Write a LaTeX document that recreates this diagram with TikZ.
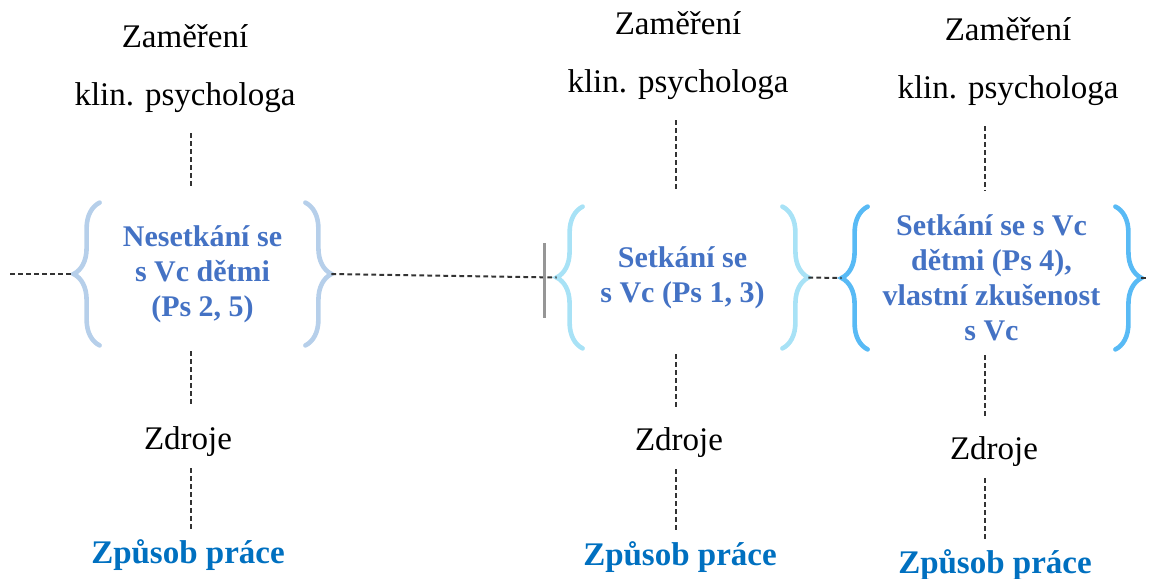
\documentclass[tikz,border=0pt]{standalone}
\usepackage{fontspec}
\setmainfont{Liberation Serif}
\usetikzlibrary{decorations.pathreplacing}
\definecolor{boxblue}{RGB}{68,114,196}
\definecolor{wayblue}{RGB}{0,112,192}
\definecolor{braceA}{RGB}{182,207,234}
\definecolor{braceB}{RGB}{168,226,246}
\definecolor{braceC}{RGB}{88,186,245}
\definecolor{tickgray}{RGB}{150,150,150}
\tikzset{
  focus/.style={inner sep=0pt, align=center, font=\fontsize{16.5}{29}\selectfont},
  res/.style={inner sep=0pt, font=\fontsize{16.5}{20}\selectfont},
  work/.style={inner sep=0pt, text=wayblue, font=\fontsize{16.5}{20}\selectfont\bfseries},
  grp/.style={inner sep=0pt, align=center, text=boxblue, font=\fontsize{15}{17.5}\selectfont\bfseries},
  curly/.style={decorate, decoration={brace, amplitude=13pt}, draw=#1, line width=2.3pt, line cap=round},
  link/.style={dash pattern=on 2.4pt off 1.6pt, line width=1pt, black!80},
}
\begin{document}
\begin{tikzpicture}[x=.5pt, y=-.5pt]
            \useasboundingbox (0,0) rectangle (1149,578);
            % three columns: focus, group, resources, way of work
            \node [focus] (top1) at (185,69) {Zaměření\\klin. psychologa};
            \node [focus] (top2) at (678,56) {Zaměření\\klin. psychologa};
            \node [focus] (top3) at (1008,62) {Zaměření\\klin. psychologa};
            \node [grp, minimum width=102.5pt, minimum height=71pt] (box1) at (202.5,274) {Nesetkání se\\s Vc dětmi\\(Ps 2, 5)};
            \node [grp, minimum width=99.5pt, minimum height=70.5pt] (box2) at (682.5,277.5) {Setkání se\\s Vc (Ps 1, 3)};
            \node [grp, minimum width=123.5pt, minimum height=71pt] (box3) at (991.5,278) {Setkání se s Vc\\dětmi (Ps 4),\\vlastní zkušenost\\s Vc};
            \node [res] (res1) at (188,442) {Zdroje};
            \node [res] (res2) at (679,443) {Zdroje};
            \node [res] (res3) at (994,452) {Zdroje};
            \node [work] (work1) at (188,555) {Způsob práce};
            \node [work] (work2) at (680,557) {Způsob práce};
            \node [work] (work3) at (995,565) {Způsob práce};
            % braces round the groups
            \draw [curly=braceA] (box1.south west) -- (box1.north west);
            \draw [curly=braceA] (box1.north east) -- (box1.south east);
            \draw [curly=braceB] (box2.south west) -- (box2.north west);
            \draw [curly=braceB] (box2.north east) -- (box2.south east);
            \draw [curly=braceC] (box3.south west) -- (box3.north west);
            \draw [curly=braceC] (box3.north east) -- (box3.south east);
            % horizontal line through the brace tips
            \coordinate (lend) at (10,274);
            \coordinate (rend) at (1149,278);
            \draw [link] (lend) -- ([xshift=-13pt]box1.west);
            \draw [link] ([xshift=13pt]box1.east) -- ([xshift=-13pt]box2.west);
            \draw [link] ([xshift=13pt]box2.east) -- ([xshift=-13pt]box3.west);
            \draw [link] ([xshift=13pt]box3.east) -- (rend);
            \draw [tickgray, line width=1.5pt] (544,243) -- (544,318);
            % vertical lines of each column
            \coordinate (c1) at (191,0);
            \coordinate (c2) at (676,0);
            \coordinate (c3) at (985,0);
            \foreach \c in {1,2,3} {
                \draw [link, shorten <=10pt, shorten >=8pt] (top\c.south -| c\c) -- (box\c.north -| c\c);
                \draw [link, shorten <=3pt, shorten >=10pt] (box\c.south -| c\c) -- (res\c.north -| c\c);
                \draw [link, shorten <=5.5pt, shorten >=4.5pt] (res\c.south -| c\c) -- (work\c.north -| c\c);
            }
        \end{tikzpicture}
\end{document}
